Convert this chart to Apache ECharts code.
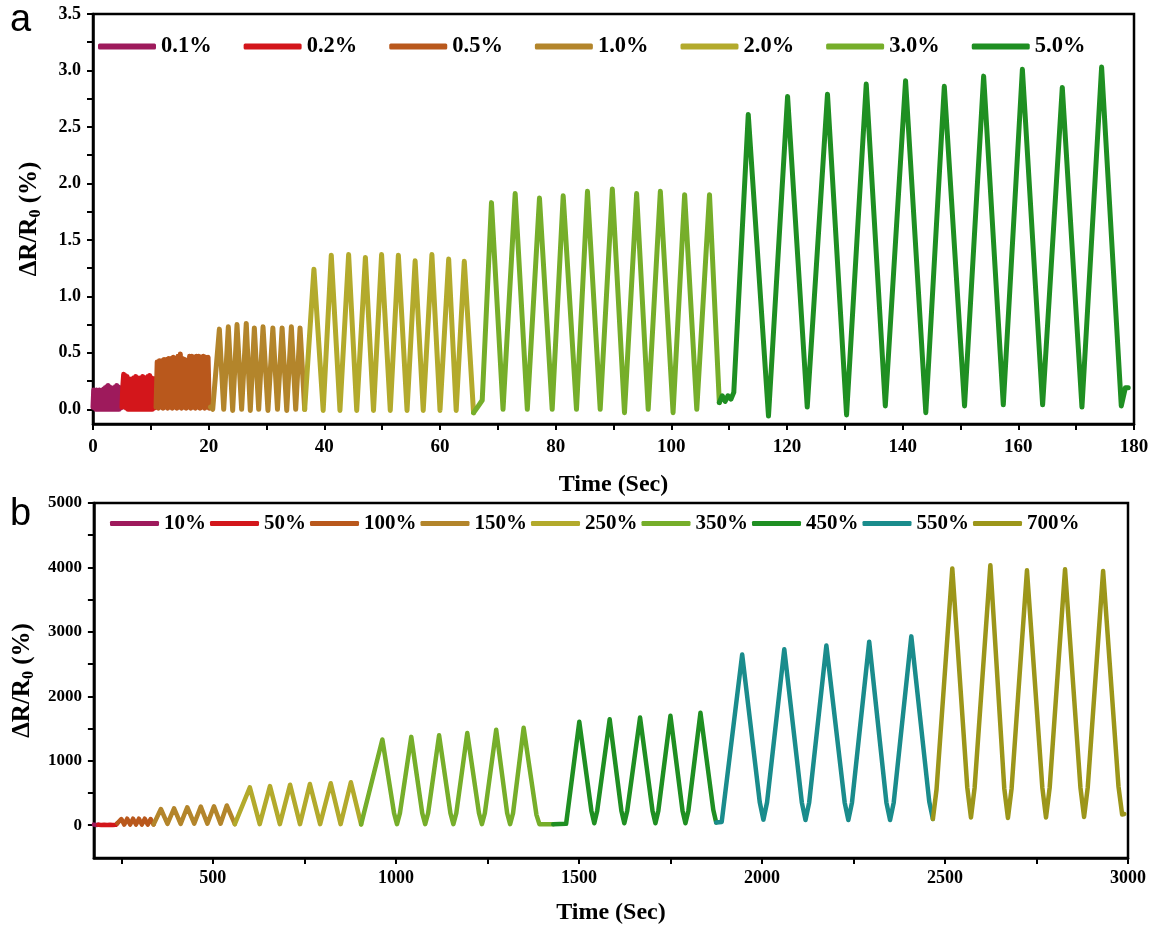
<!DOCTYPE html>
<html><head><meta charset="utf-8">
<script src="https://cdn.jsdelivr.net/npm/echarts@6/dist/echarts.min.js"></script>
<style>html,body{margin:0;padding:0;background:#fff}#c{width:1157px;height:931px}</style>
</head><body><div id="c"></div>
<script>
// ---------- Panel a ----------
const namesA = ['0.1%','0.2%','0.5%','1.0%','2.0%','3.0%','5.0%'];
const colorsA = ['#9e1a5c','#d3161b','#b9581c','#b3852b','#b3aa2c','#76ae2a','#1f8f22'];
const a01 = [[0,0.02],[0.12,0.17],[0.25,0.01],[0.37,0.16],[0.5,0.0],[0.62,0.17],[0.75,0.01],[0.87,0.16],[1.0,0.0],[1.12,0.17],[1.25,0.01],[1.37,0.16],[1.5,0.0],[1.62,0.17],[1.75,0.01],[1.87,0.18],[2.0,0.0],[2.12,0.19],[2.25,0.01],[2.37,0.2],[2.5,0.0],[2.62,0.21],[2.75,0.01],[2.87,0.2],[3.0,0.0],[3.12,0.19],[3.25,0.01],[3.37,0.18],[3.5,0.0],[3.62,0.19],[3.75,0.01],[3.87,0.2],[4.0,0.0],[4.12,0.21],[4.25,0.01],[4.37,0.2],[4.5,0.0],[4.62,0.19],[4.75,0.01],[4.87,0.19],[5.0,0.02]];
const a02 = [[5.0,0.02],[5.15,0.2],[5.3,0.31],[5.45,0.02],[5.6,0.3],[5.75,0.01],[5.9,0.29],[6.05,0.0],[6.2,0.27],[6.35,0.01],[6.5,0.26],[6.65,0.0],[6.8,0.27],[6.95,0.01],[7.1,0.28],[7.25,0.0],[7.4,0.29],[7.55,0.01],[7.7,0.28],[7.85,0.0],[8.0,0.27],[8.15,0.01],[8.3,0.28],[8.45,0.0],[8.6,0.29],[8.75,0.01],[8.9,0.28],[9.05,0.0],[9.2,0.28],[9.35,0.01],[9.5,0.29],[9.65,0.0],[9.8,0.3],[9.95,0.01],[10.1,0.28],[10.25,0.0],[10.4,0.27],[10.55,0.01],[10.7,0.27],[10.9,0.02]];
const a05 = [[10.9,0.02],[11.1,0.42],[11.3,0.01],[11.5,0.43],[11.7,0.02],[11.9,0.43],[12.1,0.01],[12.3,0.44],[12.5,0.02],[12.7,0.44],[12.9,0.01],[13.1,0.45],[13.3,0.02],[13.5,0.45],[13.7,0.01],[13.9,0.46],[14.1,0.02],[14.3,0.45],[14.5,0.01],[14.7,0.47],[14.9,0.02],[15.1,0.49],[15.3,0.01],[15.5,0.45],[15.7,0.02],[15.9,0.44],[16.1,0.01],[16.3,0.43],[16.5,0.02],[16.7,0.47],[16.9,0.01],[17.1,0.47],[17.3,0.02],[17.5,0.46],[17.7,0.01],[17.9,0.47],[18.1,0.02],[18.3,0.47],[18.5,0.01],[18.7,0.46],[18.9,0.02],[19.1,0.47],[19.3,0.01],[19.5,0.46],[19.7,0.02],[19.9,0.46],[20.1,0.01],[20.3,0.02]];
const a10 = [[20.3,0.02],[20.7,0.0],[21.85,0.71],[22.6,0.0],[23.4,0.73],[24.15,-0.01],[24.9,0.75],[25.7,0.0],[26.5,0.76],[27.2,-0.01],[27.9,0.72],[28.65,0.0],[29.4,0.73],[30.25,-0.01],[31.1,0.72],[31.9,0.0],[32.7,0.72],[33.5,-0.01],[34.3,0.73],[35.05,0.0],[35.8,0.72],[36.6,0.0]];
const a20 = [[36.6,0.0],[38.2,1.24],[39.8,-0.01],[41.2,1.365],[42.7,-0.01],[44.2,1.37],[45.6,-0.01],[47.1,1.345],[48.5,-0.01],[49.9,1.37],[51.4,-0.01],[52.8,1.365],[54.3,-0.01],[55.7,1.315],[57.1,-0.01],[58.6,1.37],[60.0,-0.01],[61.5,1.33],[62.8,-0.01],[64.2,1.31],[65.8,-0.03]];
const a30 = [[65.8,-0.03],[66.5,0.02],[67.3,0.08],[68.9,1.83],[70.9,0.0],[73.0,1.91],[75.1,0.0],[77.2,1.87],[79.4,0.0],[81.3,1.89],[83.6,0.0],[85.5,1.93],[87.7,0.0],[89.8,1.95],[91.9,-0.03],[94.0,1.91],[96.0,0.0],[98.1,1.93],[100.3,-0.03],[102.3,1.9],[104.4,0.0],[106.6,1.9],[108.3,0.06]];
const a50 = [[108.3,0.06],[108.8,0.12],[109.3,0.07],[109.8,0.12],[110.3,0.09],[110.8,0.15],[113.3,2.61],[116.8,-0.06],[120.1,2.77],[123.5,0.02],[127.0,2.79],[130.3,-0.05],[133.7,2.88],[137.0,0.03],[140.5,2.91],[144.0,-0.03],[147.2,2.86],[150.7,0.03],[154.0,2.95],[157.4,0.04],[160.7,3.01],[164.2,0.04],[167.6,2.85],[171.0,0.02],[174.4,3.03],[177.8,0.03],[178.5,0.19],[179.0,0.19]];
const seriesA = [a01,a02,a05,a10,a20,a30,a50];
const xTicksA = [0,10,20,30,40,50,60,70,80,90,100,110,120,130,140,150,160,170,180];
const xLabelsA = [0,20,40,60,80,100,120,140,160,180];
const yTicksA = [0,0.25,0.5,0.75,1,1.25,1.5,1.75,2,2.25,2.5,2.75,3,3.25,3.5];
const yLabelsA = [0,0.5,1,1.5,2,2.5,3,3.5];

// ---------- Panel b ----------
const namesB = ['10%','50%','100%','150%','250%','350%','450%','550%','700%'];
const colorsB = ['#9e1a5c','#d3161b','#b9581c','#b3852b','#b3aa2c','#76ae2a','#1f8f22','#1a8c8c','#9c961a'];
const b10 = [[175,8],[178,22],[181,4],[184,24],[187,6]];
const b50 = [[187,6],[191,30],[195,4],[199,32],[203,5],[207,30],[211,4],[215,32],[219,5],[223,30],[227,4],[231,32],[235,5],[239,28]];
const b100 = [[239,28],[243,5],[250,95],[258,8],[266,100],[274,8],[282,100],[290,8],[298,100],[306,8],[314,100],[322,8],[330,95],[338,10]];
const b150 = [[338,10],[358,250],[376,20],[394,262],[412,20],[430,278],[449,22],[467,288],[485,22],[503,293],[521,22],[538,305],[560,15]];
const b250 = [[560,15],[601,585],[628,15],[656,605],[683,15],[711,628],[738,15],[765,638],[793,15],[822,650],[849,15],[877,665],[905,12]];
const b350 = [[905,12],[963,1330],[995,185],[1003,15],[1011,185],[1042,1370],[1072,185],[1080,15],[1088,185],[1118,1395],[1149,185],[1157,15],[1165,185],[1195,1430],[1227,185],[1235,15],[1243,185],[1274,1480],[1304,185],[1312,15],[1320,185],[1349,1510],[1384,160],[1392,15],[1430,15]];
const b450 = [[1430,15],[1465,20],[1501,1605],[1534,225],[1542,30],[1550,225],[1584,1643],[1616,225],[1624,30],[1632,225],[1667,1670],[1701,225],[1709,30],[1717,225],[1750,1697],[1783,225],[1791,30],[1799,225],[1832,1745],[1867,240],[1875,40]];
const b550 = [[1875,40],[1890,50],[1946,2650],[1994,355],[2004,85],[2014,355],[2061,2730],[2109,350],[2119,80],[2129,350],[2176,2790],[2226,350],[2236,80],[2246,350],[2293,2845],[2340,350],[2350,80],[2360,350],[2408,2930],[2457,365],[2467,95]];
const b700 = [[2467,95],[2477,555],[2520,3985],[2561,580],[2571,120],[2581,580],[2624,4035],[2662,570],[2672,110],[2682,570],[2724,3955],[2766,580],[2776,120],[2786,580],[2828,3970],[2870,585],[2880,125],[2890,585],[2932,3945],[2974,600],[2984,165],[2990,172]];
const seriesB = [b10,b50,b100,b150,b250,b350,b450,b550,b700];
const xTicksB = [250,500,750,1000,1250,1500,1750,2000,2250,2500,2750,3000];
const xLabelsB = [500,1000,1500,2000,2500,3000];
const yTicksB = [0,500,1000,1500,2000,2500,3000,3500,4000,4500,5000];
const yLabelsB = [0,1000,2000,3000,4000,5000];

const SERIF = '"Liberation Serif", "Times New Roman", serif';
const axisLineStyle = {show:true, onZero:false, lineStyle:{color:'#000', width:2.5}};
function tick(vals){ return {show:true, inside:false, length:6, customValues:vals, lineStyle:{color:'#000', width:2}}; }
function lab(vals, size, margin, fmt){ return {customValues:vals, fontFamily:SERIF, fontWeight:'bold', fontSize:size, color:'#000', margin:margin, formatter:fmt}; }
const yName = 'ΔR/R{s|0} (%)';
function yNameStyle(){ return {fontFamily:SERIF, fontWeight:'bold', fontSize:25, color:'#000',
  rich:{s:{fontFamily:SERIF, fontWeight:'bold', fontSize:16, color:'#000', lineHeight:16, padding:[13,0,0,0]}}}; }
const xNameStyle = {fontFamily:SERIF, fontWeight:'bold', fontSize:24, color:'#000'};

const series = [];
seriesA.forEach((d,i)=>series.push({name:namesA[i], type:'line', xAxisIndex:0, yAxisIndex:0, data:d,
  showSymbol:false, symbol:'none', color:colorsA[i], lineStyle:{width:5, color:colorsA[i], cap:'round', join:'round'}}));
seriesB.forEach((d,i)=>series.push({name:namesB[i], type:'line', xAxisIndex:1, yAxisIndex:1, data:d,
  showSymbol:false, symbol:'none', color:colorsB[i], lineStyle:{width:4.5, color:colorsB[i], cap:'round', join:'round'}}));

const chart = echarts.init(document.getElementById('c'));
chart.setOption({
  animation:false,
  backgroundColor:'#fff',
  grid:[
    {left:93, right:23, top:14, bottom:507, show:true, borderColor:'#000', borderWidth:2.5, containLabel:false},
    {left:93, right:29, top:503, bottom:73, show:true, borderColor:'#000', borderWidth:2.5, containLabel:false}
  ],
  legend:[
    {data:namesA, left:98, top:35, padding:0, itemWidth:58, itemHeight:6, itemGap:32, icon:'roundRect',
     textStyle:{fontFamily:SERIF, fontWeight:'bold', fontSize:22.5, color:'#000'}},
    {data:namesB, left:110, top:513, padding:0, itemWidth:49, itemHeight:5, itemGap:4, icon:'roundRect',
     textStyle:{fontFamily:SERIF, fontWeight:'bold', fontSize:21, color:'#000'}}
  ],
  xAxis:[
    {type:'value', gridIndex:0, min:0, max:180, axisLine:axisLineStyle, axisTick:tick(xTicksA),
     axisLabel:lab(xLabelsA, 19, 14, v=>String(v)), splitLine:{show:false},
     name:'Time (Sec)', nameLocation:'middle', nameGap:49, nameTextStyle:xNameStyle},
    {type:'value', gridIndex:1, min:175, max:3000, axisLine:axisLineStyle, axisTick:tick(xTicksB),
     axisLabel:lab(xLabelsB, 18, 11, v=>String(v)), splitLine:{show:false},
     name:'Time (Sec)', nameLocation:'middle', nameGap:43, nameTextStyle:xNameStyle}
  ],
  yAxis:[
    {type:'value', gridIndex:0, min:-0.13, max:3.5, axisLine:axisLineStyle, axisTick:tick(yTicksA),
     axisLabel:lab(yLabelsA, 18, 12, v=>v.toFixed(1)), splitLine:{show:false},
     name:yName, nameLocation:'middle', nameGap:51, nameRotate:90, nameTextStyle:yNameStyle()},
    {type:'value', gridIndex:1, min:-510, max:5000, axisLine:axisLineStyle, axisTick:tick(yTicksB),
     axisLabel:lab(yLabelsB, 17, 12, v=>String(v)), splitLine:{show:false},
     name:yName, nameLocation:'middle', nameGap:51, nameRotate:90, nameTextStyle:yNameStyle()}
  ],
  graphic:[
    {type:'text', style:{x:10, y:21, text:'a', fontSize:38, fontFamily:'"Liberation Sans", Arial, sans-serif', fill:'#000', verticalAlign:'middle'}},
    {type:'text', style:{x:10, y:515, text:'b', fontSize:38, fontFamily:'"Liberation Sans", Arial, sans-serif', fill:'#000', verticalAlign:'middle'}}
  ],
  series:series
});
</script></body></html>
